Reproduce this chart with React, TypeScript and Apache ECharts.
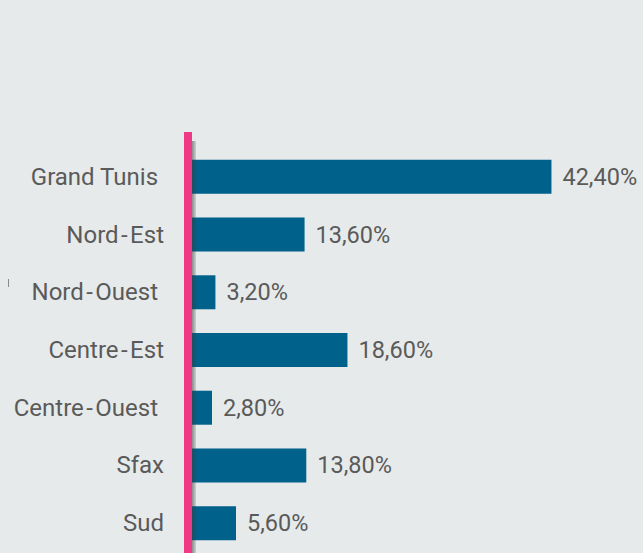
import React, { useEffect, useRef } from "react";
import * as echarts from "echarts";

const categories = [
  "Grand Tunis\u00A0",
  "Nord\u200A-\u200AEst",
  "Nord\u200A-\u200AOuest\u00A0",
  "Centre\u200A-\u200AEst",
  "Centre\u200A-\u200AOuest\u00A0",
  "Sfax",
  "Sud",
];
const values = [42.4, 13.6, 3.2, 18.6, 2.8, 13.8, 5.6];

export default function App() {
  const ref = useRef<HTMLDivElement>(null);
  useEffect(() => {
    if (!ref.current) return;
    const chart = echarts.init(ref.current, null, { renderer: "svg" });
    const textColor = "#5a5a5a";
    chart.setOption({
      animation: false,
      backgroundColor: "#e7eaea",
      grid: { left: 188, top: 148, width: 428.6, height: 404, containLabel: false },
      xAxis: {
        type: "value",
        min: 0,
        max: 50,
        show: false,
      },
      yAxis: {
        type: "category",
        data: categories,
        inverse: true,
        axisLine: { show: false },
        axisTick: { show: false },
        axisLabel: {
          color: textColor,
          fontFamily: "Roboto",
          fontSize: 24,
          margin: 24,
        },
      },
      series: [
        {
          type: "bar",
          data: values,
          barWidth: 34,
          itemStyle: { color: "#00618a" },
          label: {
            show: true,
            position: "right",
            distance: 11,
            color: textColor,
            fontFamily: "Roboto",
            fontSize: 23.5,
            formatter: (p: any) => p.value.toFixed(2).replace(".", ",") + "%",
          },
        },
      ],
      graphic: [
        {
          type: "rect",
          z: 100,
          shape: { x: 192, y: 141, width: 4, height: 420 },
          style: {
            fill: {
              type: "linear",
              x: 0, y: 0, x2: 1, y2: 0,
              colorStops: [
                { offset: 0, color: "rgba(60,60,60,0.55)" },
                { offset: 1, color: "rgba(60,60,60,0.15)" },
              ],
            },
          },
        },
        {
          type: "rect",
          z: 101,
          shape: { x: 184, y: 132, width: 8, height: 430 },
          style: { fill: "#ee3a86" },
        },
        {
          type: "line",
          z: 101,
          shape: { x1: 8.5, y1: 279, x2: 8.5, y2: 287 },
          style: { stroke: "#8a8a8a", lineWidth: 1 },
        },
      ],
    });
    return () => chart.dispose();
  }, []);
  return <div ref={ref} style={{ position: "fixed", left: 0, top: 0, width: 643, height: 553 }} />;
}
